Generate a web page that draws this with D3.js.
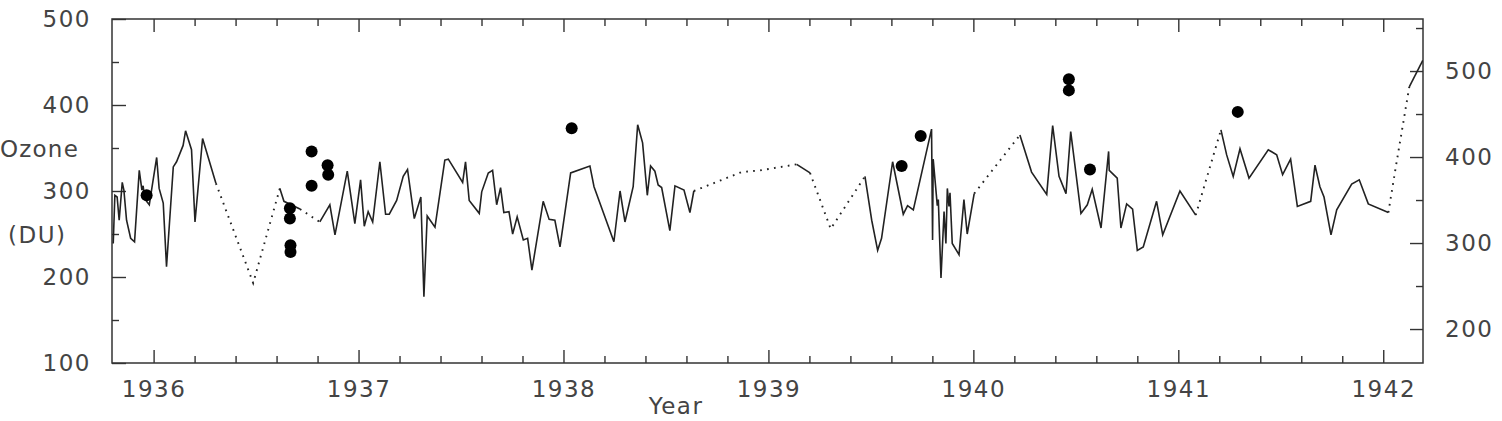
<!DOCTYPE html>
<html>
<head>
<meta charset="utf-8">
<script src="https://cdn.jsdelivr.net/npm/d3@7"></script>
<style>
body { margin: 0; background: #fff; }
text { font-family: "DejaVu Sans", sans-serif; fill: #444; }
</style>
</head>
<body>
<script>
const WIDTH = 1502;
const HEIGHT = 421;
const LEFT = 112;
const RIGHT = 1423;
const TOP = 19;
const BOTTOM = 363;

// daily total ozone, [year, DU]
var ozoneLine = [
	[1935.803,239],[1935.811,295],[1935.822,293],[1935.832,266],[1935.847,310],[1935.855,301],
	[1935.868,266],[1935.888,245],[1935.907,241],[1935.930,324],[1935.943,301],[1935.949,306],
	[1935.956,291],[1935.979,284],[1935.990,301],[1936.015,339],[1936.027,303],[1936.047,286],
	[1936.063,212],[1936.096,328],[1936.112,334],[1936.144,353],[1936.156,370],[1936.185,348],
	[1936.202,264],[1936.239,361],[1936.304,309],
	[1936.486,193],
	[1936.616,303],[1936.636,288],[1936.714,279],
	[1936.811,264],[1936.860,284],[1936.885,249],[1936.945,323],[1936.982,262],[1937.010,313],
	[1937.028,259],[1937.047,276],[1937.069,264],[1937.104,334],[1937.132,273],[1937.150,273],
	[1937.186,289],[1937.218,317],[1937.239,325],[1937.272,268],[1937.304,293],[1937.319,177],
	[1937.335,271],[1937.373,258],[1937.421,336],[1937.438,337],[1937.508,310],[1937.522,334],
	[1937.540,289],[1937.589,274],[1937.601,299],[1937.633,321],[1937.654,324],[1937.674,284],
	[1937.693,304],[1937.709,275],[1937.734,276],[1937.752,250],[1937.774,270],[1937.804,243],
	[1937.825,245],[1937.846,208],[1937.901,288],[1937.930,267],[1937.958,266],[1937.983,235],
	[1938.035,321],[1938.129,329],[1938.149,305],[1938.246,241],[1938.276,300],[1938.300,264],
	[1938.340,305],[1938.362,377],[1938.386,356],[1938.409,295],[1938.425,329],[1938.446,323],
	[1938.462,307],[1938.479,304],[1938.519,254],[1938.544,306],[1938.588,301],[1938.617,275],
	[1938.636,300],
	[1938.869,322],[1938.959,324],[1939.113,330],
	[1939.138,331],[1939.203,321],
	[1939.304,256],
	[1939.471,317],[1939.504,266],[1939.533,231],[1939.552,245],[1939.606,334],[1939.658,273],
	[1939.679,283],[1939.707,278],[1939.796,372],[1939.801,243],[1939.804,337],[1939.824,283],
	[1939.829,290],[1939.842,199],[1939.857,276],[1939.866,239],[1939.873,303],[1939.881,282],
	[1939.886,298],[1939.897,239],[1939.930,226],[1939.954,290],[1939.970,250],[1940.004,297],
	[1940.227,365],[1940.284,322],[1940.358,296],[1940.387,376],[1940.418,317],[1940.452,297],
	[1940.475,369],[1940.525,274],[1940.556,284],[1940.580,302],[1940.623,257],[1940.660,346],
	[1940.663,324],[1940.702,315],[1940.720,257],[1940.748,285],[1940.777,279],[1940.800,231],
	[1940.829,235],[1940.894,288],[1940.924,249],[1941.008,300],[1941.085,272],
	[1941.208,371],[1941.236,342],[1941.268,317],[1941.301,349],[1941.345,315],[1941.439,348],
	[1941.480,342],[1941.509,319],[1941.548,337],[1941.581,282],[1941.646,288],[1941.667,330],
	[1941.691,305],[1941.711,293],[1941.745,249],[1941.773,278],[1941.846,308],[1941.883,313],
	[1941.927,285],[1942.025,275],
	[1942.062,329],
	[1942.127,421],[1942.193,452]
];

// stretches without daily readings (joined with a dotted line)
var gapSpans = [
	[1936.304,1936.616],[1936.714,1936.811],[1938.636,1939.138],[1939.203,1939.471],
	[1940.004,1940.227],[1941.085,1941.208],[1942.025,1942.127]
];

// single observations, [year, DU]
var dobsonPoints = [
	[1935.966,295],[1936.665,280],[1936.665,268],[1936.668,237],[1936.668,229],
	[1936.771,346],[1936.771,306],[1936.849,330],[1936.852,319],[1938.040,373],
	[1939.650,329],[1939.743,364],[1940.466,430],[1940.466,417],[1940.569,325],
	[1941.290,392]
];

var yearTicks = [1936,1937,1938,1939,1940,1941,1942];
var leftTicks = [100,200,300,400,500];
var leftMinor = [150,250,350,450];
var rightTicks = [200,300,400,500];
var rightMinor = [250,350,450,550];

var isGap = function(a, b){
	return gapSpans.some(function(s){ return a[0] >= s[0]-1e-6 && b[0] <= s[1]+1e-6; });
}

var drawChart = function(){
	var svg = d3.select('body')
		.append('svg')
		.attr('width', WIDTH)
		.attr('height', HEIGHT);

	var xScale = d3.scaleLinear().domain([1935.797,1942.194]).range([LEFT,RIGHT]);
	var yScale = d3.scaleLinear().domain([100,500]).range([BOTTOM,TOP]);
	var yRight = d3.scaleLinear().domain([160.5,560.5]).range([BOTTOM,TOP]);

	var xMinor = d3.range(0,33).map(function(i){ return 1935.8 + i*0.2; })
		.filter(function(v){ return v > 1935.81 && v < 1942.19 && Math.abs(v-Math.round(v)) > 0.01; });

	var styleAxis = function(g){
		g.select('.domain').remove();
		g.selectAll('line').attr('stroke','#333').attr('stroke-width',1.4);
		g.selectAll('text').style('font-size','23px').style('letter-spacing','1.5px').attr('fill','#444');
	}

	svg.append('g').attr('transform','translate(0,'+BOTTOM+')')
		.call(d3.axisBottom(xScale).tickValues(yearTicks).tickSize(-13).tickPadding(18).tickFormat(d3.format('d')))
		.call(styleAxis);
	svg.append('g').attr('transform','translate(0,'+BOTTOM+')')
		.call(d3.axisBottom(xScale).tickValues(xMinor).tickSize(-7).tickFormat(''))
		.call(styleAxis);
	svg.append('g').attr('transform','translate(0,'+TOP+')')
		.call(d3.axisTop(xScale).tickValues(yearTicks).tickSize(-13).tickFormat(''))
		.call(styleAxis);
	svg.append('g').attr('transform','translate(0,'+TOP+')')
		.call(d3.axisTop(xScale).tickValues(xMinor).tickSize(-7).tickFormat(''))
		.call(styleAxis);

	svg.append('g').attr('transform','translate('+LEFT+',0)')
		.call(d3.axisLeft(yScale).tickValues(leftTicks).tickSize(-14).tickPadding(21))
		.call(styleAxis);
	svg.append('g').attr('transform','translate('+LEFT+',0)')
		.call(d3.axisLeft(yScale).tickValues(leftMinor).tickSize(-7).tickFormat(''))
		.call(styleAxis);
	svg.append('g').attr('transform','translate('+RIGHT+',0)')
		.call(d3.axisRight(yRight).tickValues(rightTicks).tickSize(-13).tickPadding(22))
		.call(styleAxis);
	svg.append('g').attr('transform','translate('+RIGHT+',0)')
		.call(d3.axisRight(yRight).tickValues(rightMinor).tickSize(-7).tickFormat(''))
		.call(styleAxis);

	svg.append('rect')
		.attr('x',LEFT).attr('y',TOP)
		.attr('width',RIGHT-LEFT).attr('height',BOTTOM-TOP)
		.attr('fill','none').attr('stroke','#333').attr('stroke-width',1.5);

	svg.append('clipPath').attr('id','plot')
		.append('rect').attr('x',LEFT).attr('y',TOP).attr('width',RIGHT-LEFT).attr('height',BOTTOM-TOP);

	// split the series into solid and dotted runs
	var runs = [];
	for (var i = 0; i < ozoneLine.length-1; i++) {
		var dotted = isGap(ozoneLine[i], ozoneLine[i+1]);
		var last = runs[runs.length-1];
		if (last && last.dotted === dotted) {
			last.pts.push(ozoneLine[i+1]);
		} else {
			runs.push({dotted: dotted, pts: [ozoneLine[i], ozoneLine[i+1]]});
		}
	}

	var linePath = d3.line()
		.x(function(d){ return xScale(d[0]); })
		.y(function(d){ return yScale(d[1]); });

	var graph = svg.append('g').attr('clip-path','url(#plot)');

	graph.selectAll('path.run')
		.data(runs)
		.enter()
		.append('path')
		.attr('class','run')
		.attr('d',function(d){ return linePath(d.pts); })
		.attr('fill','none')
		.attr('stroke','#222')
		.attr('stroke-width',function(d){ return d.dotted ? 1.9 : 1.6; })
		.attr('stroke-dasharray',function(d){ return d.dotted ? '1.7 5.3' : null; })
		.attr('stroke-linejoin','miter');

	graph.selectAll('circle')
		.data(dobsonPoints)
		.enter()
		.append('circle')
		.attr('cx',function(d){ return xScale(d[0]); })
		.attr('cy',function(d){ return yScale(d[1]); })
		.attr('r',6)
		.attr('fill','#000');

	svg.append('text').attr('x',0).attr('y',157)
		.style('font-size','23px').style('letter-spacing','1.2px').text('Ozone');
	svg.append('text').attr('x',8).attr('y',243)
		.style('font-size','23px').style('letter-spacing','1.5px').text('(DU)');
	svg.append('text').attr('x',676).attr('y',414).attr('text-anchor','middle')
		.style('font-size','23px').style('letter-spacing','1.5px').text('Year');
}

window.onload = function(){
	drawChart();
}
</script>
</body>
</html>
